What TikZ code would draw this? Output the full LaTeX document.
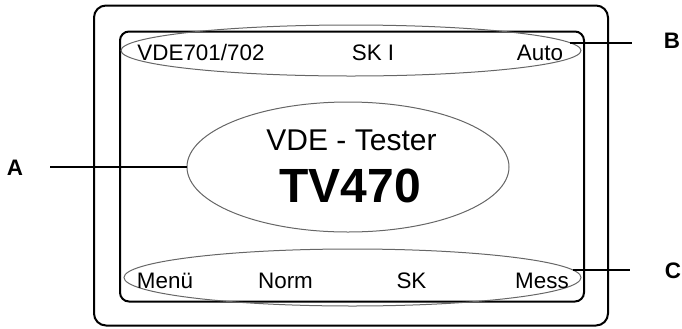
\documentclass[tikz,border=0pt]{standalone}
\usepackage{fontspec}
\setmainfont{Liberation Sans}
\usetikzlibrary{shapes.geometric}
\tikzset{
  frame/.style={draw=black, line width=1pt, rounded corners=#1},
  frame/.default=5pt,
  screenell/.style={
    ellipse, draw=gray!80!black, line width=0.5pt,
    inner sep=0pt, outer sep=0pt
  },
  lbl/.style={anchor=base, inner sep=0pt,
    font=\fontsize{11.2}{13}\selectfont},
  tag/.style={anchor=base, inner sep=0pt,
    font=\fontsize{11.2}{13}\selectfont\bfseries},
  lead/.style={draw=black, line width=0.8pt}
}
\begin{document}
\begin{tikzpicture}[x=0.5pt, y=-0.5pt]
  \useasboundingbox (0,0) rectangle (682,328);
  % housing and display
  \draw[frame=6pt] (94,5.5) rectangle (608,325.5);
  \draw[frame=4.5pt] (120,31.5) rectangle (584,301.5);
  % marked zones
  \node[screenell, minimum width=230pt, minimum height=25.5pt]
    (topell) at (351,50.5) {};
  \node[screenell, minimum width=161pt, minimum height=65pt]
    (mid) at (348,167) {};
  \node[screenell, minimum width=228.5pt, minimum height=28.5pt]
    (botell) at (352.5,277.5) {};
  % display texts
  \foreach \x/\t/\n in {201/{VDE701/702}/std, 373/SK I/cls, 540/Auto/mode}{%
    \node[lbl] (\n) at (\x,60) {\t};}
  \foreach \x/\t/\n in {165/Menü/menu, 285.5/Norm/normsel,
                        411.5/SK/sksel, 542/Mess/mess}{%
    \node[lbl] (\n) at (\x,288) {\t};}
  \node[lbl, font=\fontsize{15}{18}\selectfont] (title)
    at (351.5,150) {VDE - Tester};
  \node[lbl, font=\fontsize{24}{28}\selectfont\bfseries] (model)
    at (350,202) {TV470};
  % callouts
  \node[tag] (labA) at (15,175) {A};
  \node[tag] (labB) at (672,48) {B};
  \node[tag] (labC) at (673,278) {C};
  \coordinate (aend) at (50,167);
  \coordinate (bend) at (632,42.5);
  \coordinate (cend) at (630,269);
  \draw[lead] (aend) -- (mid.west);
  \draw[lead] (topell.2.1) -- (topell.2.1 -| bend);
  \draw[lead] (botell.2.2) -- (botell.2.2 -| cend);
\end{tikzpicture}
\end{document}
